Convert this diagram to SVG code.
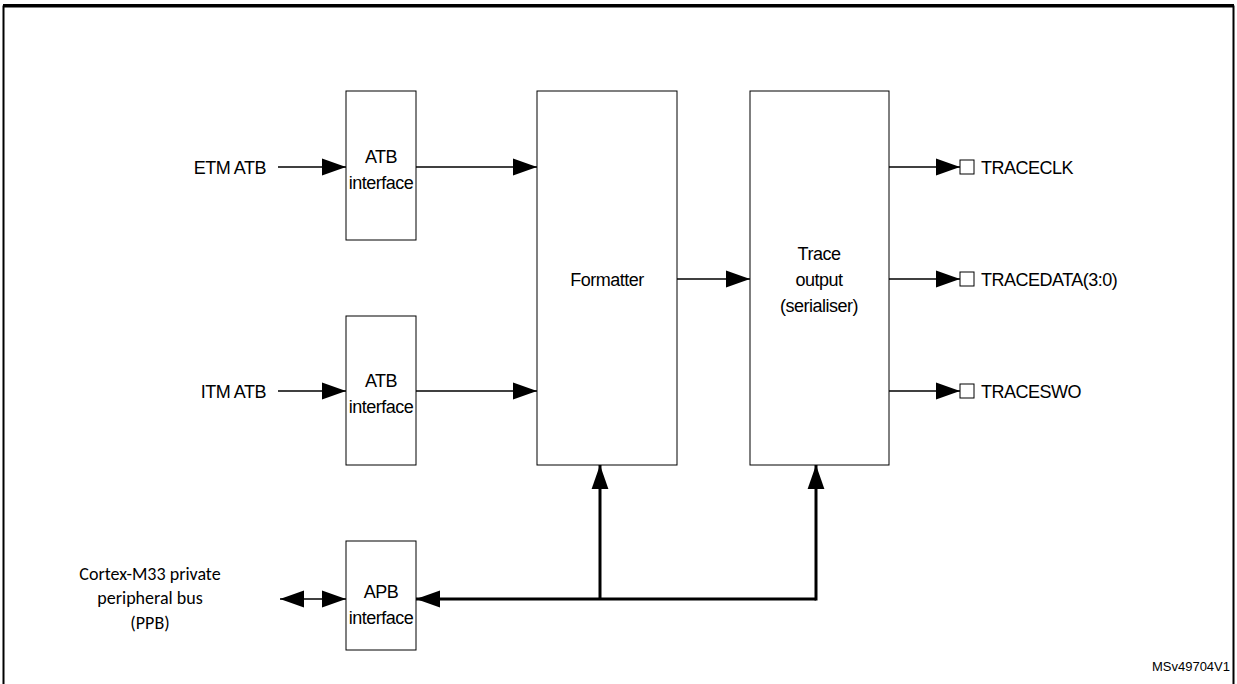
<svg xmlns="http://www.w3.org/2000/svg" width="1237" height="684" viewBox="0 0 1237 684">
<defs>
<marker id="ab" viewBox="0 0 10 10" refX="10" refY="5" markerWidth="24" markerHeight="24" markerUnits="userSpaceOnUse" orient="auto-start-reverse"><path d="M0,1.5L10,5L0,8.5z" fill="#000"/></marker>
</defs>
<style>
.b{fill:#fff;stroke:#000;stroke-width:1}
.t{font-family:"Liberation Sans",Arial,sans-serif;font-size:18px;letter-spacing:-0.5px;fill:#000}
.c{text-anchor:middle}
.l{stroke:#000;stroke-width:1.5;fill:none}
.k{stroke:#000;stroke-width:3;fill:none}
</style>
<rect x="0" y="0" width="1237" height="684" fill="#fff"/>
<path d="M3.5,684V6.5H1233.5V684" fill="none" stroke="#000" stroke-width="2"/>
<line x1="3" y1="5" x2="1234" y2="5" stroke="#000" stroke-width="2"/>
<g id="atb1"><rect class="b" x="346" y="91" width="70" height="149"/><text class="t c" x="381" y="163">ATB</text><text class="t c" x="381" y="189">interface</text></g>
<g id="atb2"><rect class="b" x="346" y="316" width="70" height="149"/><text class="t c" x="381" y="387">ATB</text><text class="t c" x="381" y="413">interface</text></g>
<g id="formatter"><rect class="b" x="537" y="91" width="140" height="374"/><text class="t c" x="607" y="286">Formatter</text></g>
<g id="trace"><rect class="b" x="750" y="91" width="139" height="374"/><text class="t c" x="819" y="260">Trace</text><text class="t c" x="819" y="286">output</text><text class="t c" x="819" y="312">(serialiser)</text></g>
<g id="apb"><rect class="b" x="346" y="541" width="70" height="109"/><text class="t c" x="381" y="598">APB</text><text class="t c" x="381" y="624">interface</text></g>
<g id="labels">
<text class="t" x="266" y="174" text-anchor="end">ETM ATB</text>
<text class="t" x="266" y="398" text-anchor="end">ITM ATB</text>
<rect class="b" x="960" y="160" width="14" height="14"/><text class="t" x="981" y="174">TRACECLK</text>
<rect class="b" x="960" y="272" width="14" height="14"/><text class="t" x="981" y="286">TRACEDATA(3:0)</text>
<rect class="b" x="960" y="384" width="14" height="14"/><text class="t" x="981" y="398">TRACESWO</text>
<g font-family="Carlito,Calibri,'Liberation Sans',sans-serif" font-size="18" text-anchor="middle"><text x="150" y="580">Cortex-M33 private</text><text x="150" y="604">peripheral bus</text><text x="150" y="629">(PPB)</text></g>
<text x="1230" y="671" text-anchor="end" font-family="'Liberation Sans',Arial,sans-serif" font-size="13">MSv49704V1</text>
</g>
<g id="connectors">
<line class="l" x1="278" y1="167" x2="346" y2="167" marker-end="url(#ab)"/>
<line class="l" x1="278" y1="391" x2="346" y2="391" marker-end="url(#ab)"/>
<line class="l" x1="416" y1="167" x2="537" y2="167" marker-end="url(#ab)"/>
<line class="l" x1="416" y1="391" x2="537" y2="391" marker-end="url(#ab)"/>
<line class="l" x1="677" y1="279" x2="750" y2="279" marker-end="url(#ab)"/>
<line class="l" x1="889" y1="167" x2="960" y2="167" marker-end="url(#ab)"/>
<line class="l" x1="889" y1="279" x2="960" y2="279" marker-end="url(#ab)"/>
<line class="l" x1="889" y1="391" x2="960" y2="391" marker-end="url(#ab)"/>
<line class="l" x1="280" y1="599" x2="346" y2="599" marker-start="url(#ab)" marker-end="url(#ab)"/>
<line class="k" x1="816" y1="599" x2="416" y2="599" marker-end="url(#ab)"/>
<line class="k" x1="600" y1="599" x2="600" y2="465" marker-end="url(#ab)"/>
<line class="k" x1="816" y1="600.5" x2="816" y2="465" marker-end="url(#ab)"/>
</g>
</svg>
